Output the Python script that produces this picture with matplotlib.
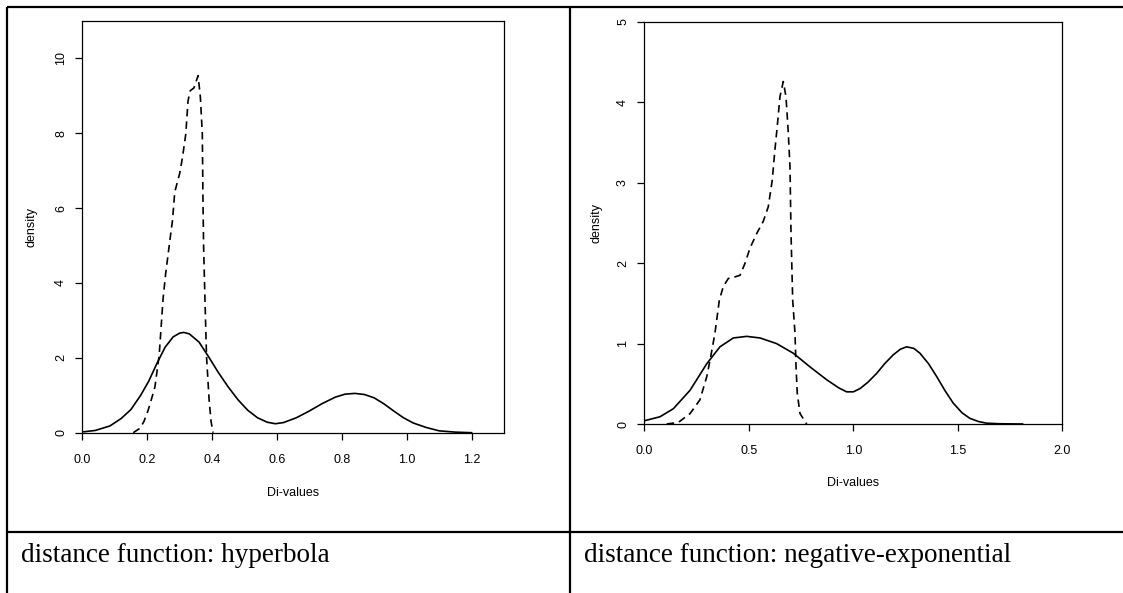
import matplotlib
matplotlib.use("Agg")
import matplotlib.pyplot as plt
from matplotlib.lines import Line2D

W, H = 1123, 593

# ---- data ----
hyp_solid_x = [0, 0.04, 0.085, 0.12, 0.15, 0.18, 0.205, 0.23, 0.255, 0.28, 0.3, 0.313, 0.33, 0.36,
               0.39, 0.42, 0.45, 0.48, 0.51, 0.54, 0.57, 0.595, 0.62, 0.66, 0.7, 0.74, 0.78, 0.81,
               0.84, 0.87, 0.9, 0.93, 0.96, 0.99, 1.02, 1.06, 1.1, 1.15, 1.2]
hyp_solid_y = [0.02, 0.06, 0.18, 0.38, 0.62, 1.0, 1.38, 1.85, 2.28, 2.56, 2.66, 2.68, 2.64, 2.42,
               2.02, 1.6, 1.22, 0.88, 0.6, 0.4, 0.28, 0.24, 0.27, 0.4, 0.58, 0.78, 0.95, 1.03,
               1.05, 1.02, 0.93, 0.77, 0.58, 0.4, 0.26, 0.14, 0.05, 0.015, 0.0]
hyp_dash_x = [0.157, 0.178, 0.19, 0.203, 0.215, 0.224, 0.237, 0.249, 0.257, 0.27, 0.278, 0.285,
              0.3, 0.309, 0.319, 0.326, 0.333, 0.344, 0.357, 0.364, 0.37, 0.372, 0.374, 0.378,
              0.383, 0.391, 0.397, 0.403]
hyp_dash_y = [0.0, 0.12, 0.3, 0.6, 0.95, 1.23, 2.07, 3.58, 4.25, 5.14, 5.67, 6.43, 6.92, 7.36,
              7.98, 8.87, 9.14, 9.21, 9.54, 8.96, 7.98, 6.2, 4.96, 3.6, 2.03, 0.87, 0.3, 0.0]

exp_solid_x = [0, 0.075, 0.139, 0.219, 0.299, 0.362, 0.426, 0.49, 0.554, 0.633, 0.713, 0.793,
               0.873, 0.93, 0.968, 1.0, 1.032, 1.07, 1.112, 1.15, 1.191, 1.225, 1.255, 1.29,
               1.319, 1.36, 1.399, 1.44, 1.478, 1.52, 1.558, 1.6, 1.638, 1.7, 1.81]
exp_solid_y = [0.04, 0.09, 0.19, 0.42, 0.75, 0.96, 1.07, 1.09, 1.07, 1.0, 0.88, 0.71, 0.55, 0.45,
               0.40, 0.40, 0.44, 0.52, 0.63, 0.75, 0.86, 0.93, 0.96, 0.94, 0.88, 0.75, 0.59, 0.41,
               0.26, 0.14, 0.07, 0.03, 0.01, 0.003, 0.0]
exp_dash_x = [0.107, 0.163, 0.219, 0.266, 0.299, 0.318, 0.338, 0.359, 0.378, 0.402, 0.434, 0.458,
              0.482, 0.506, 0.538, 0.569, 0.593, 0.612, 0.625, 0.636, 0.649, 0.665, 0.678, 0.689,
              0.697, 0.702, 0.71, 0.721, 0.726, 0.732, 0.745, 0.777]
exp_dash_y = [0.0, 0.02, 0.13, 0.30, 0.59, 0.84, 1.13, 1.54, 1.71, 1.81, 1.83, 1.85, 2.0, 2.19,
              2.37, 2.52, 2.70, 3.03, 3.41, 3.7, 4.07, 4.26, 4.07, 3.62, 3.2, 2.37, 1.54, 1.13,
              0.71, 0.38, 0.13, 0.0]

hyp_xticks = [0.0, 0.2, 0.4, 0.6, 0.8, 1.0, 1.2]
hyp_xticklabels = ["0.0", "0.2", "0.4", "0.6", "0.8", "1.0", "1.2"]
hyp_yticks = [0, 2, 4, 6, 8, 10]
exp_xticks = [0.0, 0.5, 1.0, 1.5, 2.0]
exp_xticklabels = ["0.0", "0.5", "1.0", "1.5", "2.0"]
exp_yticks = [0, 1, 2, 3, 4, 5]

captions = ["distance function: hyperbola", "distance function: negative-exponential"]
xlabel = "Di-values"
ylabel = "density"

plt.rcParams['font.family'] = ['Liberation Sans', 'DejaVu Sans']

fig = plt.figure(figsize=(W / 100, H / 100), dpi=100)


def rect(x0, y0, x1, y1):
    return [x0 / W, 1 - y1 / H, (x1 - x0) / W, (y1 - y0) / H]


def fx(x):
    return x / W


def fy(y):
    return 1 - y / H


# table borders
bl = dict(color="black", lw=1.6, solid_capstyle="butt")
fig.add_artist(Line2D([fx(7), fx(W)], [fy(7.3), fy(7.3)], transform=fig.transFigure, **bl))
fig.add_artist(Line2D([fx(7.3), fx(7.3)], [fy(6.5), fy(H)], transform=fig.transFigure, **bl))
fig.add_artist(Line2D([fx(570), fx(570)], [fy(6.5), fy(H)], transform=fig.transFigure, **bl))
fig.add_artist(Line2D([fx(7), fx(W)], [fy(531.7), fy(531.7)], transform=fig.transFigure, **bl))

dash = (0, (4.5, 3))


def style(ax):
    for s in ax.spines.values():
        s.set_linewidth(0.9)
        s.set_color("black")
    ax.tick_params(direction="out", length=5, width=0.9, labelsize=9, colors="black")
    ax.tick_params(axis="x", pad=10)
    ax.tick_params(axis="y", pad=6)
    for lab in ax.get_yticklabels():
        lab.set_rotation(90)
        lab.set_va("center")


# left panel
ax1 = fig.add_axes(rect(82.3, 21, 504, 432.7))
ax1.plot(hyp_solid_x, hyp_solid_y, color="black", lw=1.2)
ax1.plot(hyp_dash_x, hyp_dash_y, color="black", lw=1.2, ls=dash)
ax1.set_xlim(0, 1.3)
ax1.set_ylim(0, 11)
ax1.set_xticks(hyp_xticks)
ax1.set_xticklabels(hyp_xticklabels)
ax1.set_yticks(hyp_yticks)
ax1.set_yticklabels([str(v) for v in hyp_yticks])
style(ax1)
fig.text(fx(32), fy(227), ylabel, rotation=90, ha="center", va="center", fontsize=9)
fig.text(fx(293), fy(492.7), xlabel, ha="center", va="center", fontsize=9)

# right panel
ax2 = fig.add_axes(rect(644.3, 22, 1062.3, 424))
ax2.plot(exp_solid_x, exp_solid_y, color="black", lw=1.2)
ax2.plot(exp_dash_x, exp_dash_y, color="black", lw=1.2, ls=dash)
ax2.set_xlim(0, 2.0)
ax2.set_ylim(0, 5)
ax2.set_xticks(exp_xticks)
ax2.set_xticklabels(exp_xticklabels)
ax2.set_yticks(exp_yticks)
ax2.set_yticklabels([str(v) for v in exp_yticks])
style(ax2)
fig.text(fx(596.7), fy(223), ylabel, rotation=90, ha="center", va="center", fontsize=9)
fig.text(fx(853), fy(482.7), xlabel, ha="center", va="center", fontsize=9)

# captions
fig.text(fx(20.7), fy(556), captions[0], ha="left", va="center", fontsize=19.5,
         family="Liberation Serif")
fig.text(fx(584), fy(556), captions[1], ha="left", va="center", fontsize=19.5,
         family="Liberation Serif")

fig.savefig("out.png", dpi=100)
